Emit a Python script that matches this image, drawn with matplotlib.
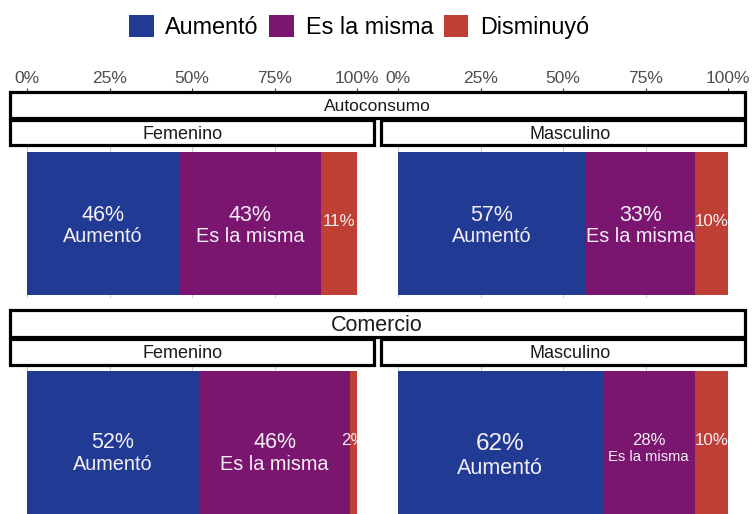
import matplotlib
matplotlib.use('Agg')
import matplotlib.pyplot as plt
import matplotlib.transforms as mtransforms
from matplotlib.patches import Patch, Rectangle

plt.rcParams['font.family'] = ['Liberation Sans', 'DejaVu Sans']

# data (percent of respondents)
categories = ['Aumentó', 'Es la misma', 'Disminuyó']
industries = ['Autoconsumo', 'Comercio']
sexes = ['Femenino', 'Masculino']
autoconsumo_femenino = [46, 43, 11]
autoconsumo_masculino = [57, 33, 10]
comercio_femenino = [52, 46, 2]
comercio_masculino = [62, 28, 10]
tick_values = [0, 25, 50, 75, 100]
tick_labels = ['0%', '25%', '50%', '75%', '100%']

shares = {
    ('Autoconsumo', 'Femenino'): autoconsumo_femenino,
    ('Autoconsumo', 'Masculino'): autoconsumo_masculino,
    ('Comercio', 'Femenino'): comercio_femenino,
    ('Comercio', 'Masculino'): comercio_masculino,
}

colors = ['#213A93', '#7B1670', '#BF3F35']
label_color = '#F4EFF6'

# font sizes (pct, name) that differ from the default
label_sizes = {
    ('Comercio', 'Masculino', 'Aumentó'): (17.5, 15.5),
    ('Comercio', 'Masculino', 'Es la misma'): (12, 10.6),
}

W, H = 752, 514
fig = plt.figure(figsize=(W / 100, H / 100), dpi=100)


def fig_box(x0, y0, x1, y1):
    # pixel box (top-left origin) -> figure fraction rect
    return [x0 / W, 1 - y1 / H, (x1 - x0) / W, (y1 - y0) / H]


rows = {
    'Autoconsumo': dict(top=146, bottom=298, center=223.5, strip=(92, 118),
                        sub=(120, 145), title_size=12.5, pct_top=18),
    'Comercio': dict(top=367, bottom=514, center=442.5, strip=(310, 337),
                     sub=(339, 365), title_size=15.5, pct_top=9.5),
}
cols = {
    'Femenino': dict(x0=27, x1=357, strip=(10, 374), label_x=183),
    'Masculino': dict(x0=398, x1=728, strip=(381, 745), label_x=570),
}
BAR_PX = 143


def strip_box(x0, y0, x1, y1, text, tx, size):
    fig.add_artist(Rectangle((x0 / W, 1 - y1 / H), (x1 - x0) / W, (y1 - y0) / H,
                             transform=fig.transFigure, facecolor='white',
                             edgecolor='black', lw=2.3))
    base = (y0 + y1) / 2 + 0.36 * size * 100 / 72
    fig.text(tx / W, 1 - base / H, text, ha='center', va='baseline',
             fontsize=size, color='#1A1A1A')


for ind in industries:
    r = rows[ind]
    strip_box(10, r['strip'][0], 745, r['strip'][1], ind, 377, r['title_size'])
    for sex in sexes:
        c = cols[sex]
        strip_box(c['strip'][0], r['sub'][0], c['strip'][1], r['sub'][1],
                  sex, c['label_x'], 13)

        ax = fig.add_axes(fig_box(c['x0'], r['top'], c['x1'], r['bottom']))
        vals = shares[(ind, sex)]
        left = 0
        for cat, v, col in zip(categories, vals, colors):
            ax.barh(0, v, left=left, height=1, color=col, zorder=2)
            mid = left + v / 2
            if v >= 20:
                pct_pt, name_pt = label_sizes.get((ind, sex, cat), (15.5, 14.3))
                pct_base = r['pct_top'] - pct_pt
                lines = [(f'{v}%', pct_base, pct_pt),
                         (cat, pct_base - 1.5 * name_pt, name_pt)]
            else:
                lines = [(f'{v}%', 10 - 12.2, 12.2)]
            for txt, dy, size in lines:
                tr = mtransforms.offset_copy(ax.transData, fig=fig, x=0, y=dy, units='dots')
                ax.text(mid, 0, txt, transform=tr, ha='center', va='baseline',
                        fontsize=size, color=label_color, clip_on=True, zorder=3)
            left += v

        ax.set_xlim(0, 100)
        ax.set_ylim(-(r['bottom'] - r['center']) / BAR_PX, (r['center'] - r['top']) / BAR_PX)
        ax.set_xticks(tick_values)
        ax.tick_params(length=0, labelbottom=False)
        ax.set_yticks([])
        ax.grid(axis='x', color='#CCCCCC', lw=0.8, zorder=0)
        ax.set_axisbelow(True)
        for s in ax.spines.values():
            s.set_visible(False)

        if ind == industries[0]:
            sec = ax.secondary_xaxis((r['bottom'] - 91.5) / (r['bottom'] - r['top']))
            sec.set_xticks(tick_values, tick_labels)
            sec.tick_params(length=2.5, width=0.8, color='#333333', labelsize=12.5,
                            labelcolor='#4D4D4D', pad=1.5)
            for s in sec.spines.values():
                s.set_visible(False)

handles = [Patch(facecolor=col) for col in colors]
fig.legend(handles, categories, loc='center', bbox_to_anchor=(359 / W, 1 - 27 / H),
           ncol=3, frameon=False, fontsize=16.8, handlelength=1.06, handleheight=1.06,
           handletextpad=0.5, columnspacing=0.45)

fig.savefig('out.png', dpi=100)
